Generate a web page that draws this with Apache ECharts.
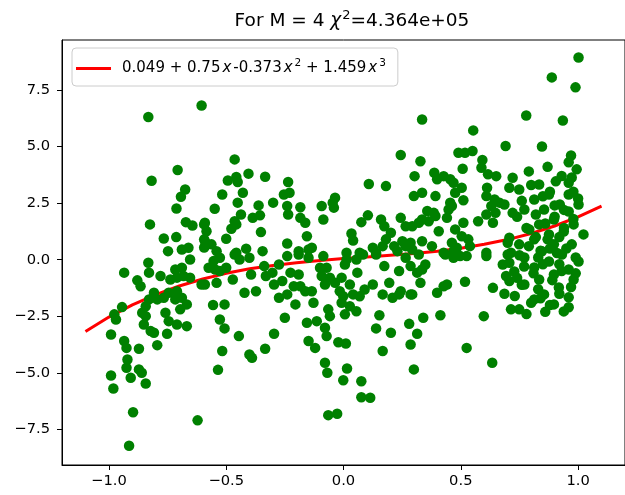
<!DOCTYPE html>
<html><head><meta charset="utf-8">
<script src="https://cdn.jsdelivr.net/npm/echarts@6/dist/echarts.min.js"></script>
<style>html,body{margin:0;padding:0;background:#fff}#c{width:625px;height:495px}</style>
</head><body><div id="c"></div>
<script>
const titleText = 'For M = 4 ';
const titleRest = '=4.364e+05';
const xTicks = [-1.0, -0.5, 0.0, 0.5, 1.0];
const yTicks = [-7.5, -5.0, -2.5, 0.0, 2.5, 5.0, 7.5];
const curveX = [-1.1,-1.0,-0.9,-0.8,-0.7,-0.6,-0.5,-0.4,-0.3,-0.2,-0.1,0.0,0.1,0.2,0.3,0.4,0.5,0.6,0.7,0.8,0.9,1.0,1.1];
const curveY = [-3.17,-2.53,-1.99,-1.54,-1.16,-0.85,-0.60,-0.40,-0.25,-0.13,-0.03,0.05,0.12,0.20,0.28,0.38,0.51,0.68,0.89,1.16,1.49,1.89,2.37];
const pointsX = [
-0.832,-0.605,-0.707,-0.818,-0.675,-0.693,-0.712,-0.825,-0.672,-0.644,-0.594,-0.766,-0.713,-0.748,-0.689,-0.661,-0.594,-0.594,
-0.654,-0.832,-0.829,-0.935,-0.780,-0.879,-0.865,-0.717,-0.689,-0.710,-0.682,-0.654,-0.738,-0.605,-0.808,-0.829,-0.843,-0.794,-0.766,-0.745,-0.710,-0.717,-0.689,-0.668,-0.696,-0.944,-0.977,-0.970,-0.858,-0.843,-0.851,-0.759,-0.745,-0.710,-0.668,-0.991,-0.822,-0.808,-0.752,-0.935,-0.925,-0.872,-0.794,-0.921,-0.925,-0.872,-0.860,-0.991,-0.907,-0.843,-0.981,-0.897,-0.622,-0.914,
-0.464,-0.405,-0.334,-0.493,-0.457,-0.451,-0.236,-0.230,-0.254,-0.517,-0.429,-0.451,-0.300,-0.549,-0.362,-0.356,-0.387,-0.437,-0.464,-0.478,-0.457,-0.240,-0.236,-0.184,-0.184,-0.163,-0.591,-0.584,-0.500,-0.352,-0.591,-0.563,-0.541,-0.457,-0.415,-0.345,-0.240,-0.191,-0.149,
-0.527,-0.554,-0.575,-0.547,-0.527,-0.500,-0.464,-0.443,-0.401,-0.591,-0.541,-0.472,-0.394,-0.338,-0.331,-0.303,-0.275,-0.296,-0.261,-0.240,-0.191,-0.226,-0.191,-0.212,-0.184,-0.422,-0.373,-0.275,-0.240,-0.205,-0.163,-0.556,-0.507,-0.527,-0.507,-0.446,-0.296,-0.250,-0.156,-0.149,-0.517,-0.401,-0.390,-0.334,-0.535,
0.244,0.108,0.181,-0.036,-0.046,-0.093,-0.041,-0.086,-0.156,-0.135,0.034,0.041,0.076,0.104,0.069,0.013,0.160,0.174,0.181,0.167,0.202,0.216,0.244,0.265,0.251,0.293,0.125,0.139,0.265,0.293,
-0.149,-0.086,0.013,0.006,0.055,0.083,0.139,0.174,0.230,0.265,0.237,-0.100,-0.072,-0.093,-0.058,-0.079,-0.036,-0.008,0.027,0.059,-0.135,-0.128,-0.016,-0.008,-0.001,0.041,0.069,0.090,0.027,0.055,0.006,-0.065,-0.058,0.125,0.167,0.195,0.209,0.237,0.244,0.286,0.153,0.139,0.202,-0.114,-0.079,-0.072,-0.121,-0.022,0.010,0.167,0.280,0.286,-0.079,-0.069,0.015,-0.001,0.076,0.076,0.114,0.300,-0.065,-0.027,
0.335,0.553,0.691,0.490,0.518,0.550,0.328,0.592,0.588,0.616,0.651,0.508,0.303,0.387,0.399,0.427,0.455,0.469,0.476,0.504,0.511,0.300,0.335,0.392,0.612,0.609,0.644,0.665,0.686,0.630,0.648,0.707,0.721,0.721,0.455,0.448,0.462,0.357,0.385,0.335,0.363,0.321,0.392,0.441,0.574,0.609,0.637,0.511,0.476,0.406,0.504,0.532,0.539,0.335,0.377,0.286,0.462,0.483,0.707,0.700,0.609,0.427,0.714,
0.321,0.434,0.469,0.497,0.525,0.469,0.609,0.700,0.679,0.707,0.349,0.335,0.314,0.286,0.328,0.518,0.399,0.427,0.441,0.293,0.637,0.693,0.707,0.686,0.714,0.340,0.413,0.598,0.314,0.525,0.634,
1.002,0.888,0.989,0.779,0.935,0.846,0.960,0.994,0.973,0.905,0.834,0.749,0.876,0.960,0.813,0.922,1.002,0.771,0.855,0.960,0.897,0.834,0.981,0.792,0.939,0.876,1.023,0.813,0.749,0.897,0.973,0.846,0.931,0.771,0.876,1.002,0.813,0.960,0.728,0.897,0.834,0.981,0.771,0.918,0.855,0.960,0.813,0.897,0.749,0.939,
0.74,0.76,0.78,0.80,0.82,0.84,0.86,0.88,0.90,0.92,0.94,0.96,0.98,1.00,0.75,0.77,0.79,0.81,0.83,0.85,0.87,0.89,0.91,0.93,0.95,0.97,0.99,0.73,0.76,0.80,0.84,0.88,0.92,0.96,0.78,0.86,0.82,0.90,0.94,0.98,0.85,0.79,0.87,0.93,0.97,0.74,0.92,0.99,0.83,0.88
];
const pointsY = [
6.30,6.81,3.96,3.49,3.10,2.78,2.26,1.56,1.66,1.51,1.56,0.94,1.00,0.38,0.45,0.53,0.90,0.54,
0.01,-0.13,-0.57,-0.57,-0.72,-0.91,-1.17,-0.43,-0.35,-0.79,-0.72,-0.79,-0.87,-1.09,-1.46,-1.75,-2.05,-1.75,-1.68,-1.46,-1.39,-1.75,-1.68,-1.97,-2.19,-2.09,-2.41,-2.64,-2.34,-2.49,-2.86,-2.34,-2.71,-2.86,-2.93,-3.30,-3.15,-3.22,-3.27,-3.59,-3.89,-3.93,-3.77,-4.40,-4.77,-4.84,-4.99,-5.11,-5.21,-5.46,-5.68,-6.73,-7.09,-8.21,
4.43,3.80,3.66,3.50,3.65,3.43,3.43,2.96,2.88,2.88,2.96,2.52,2.52,2.25,2.40,1.96,1.85,2.00,1.70,1.37,1.56,2.37,2.00,2.32,1.85,1.63,1.63,1.26,0.93,1.22,0.82,0.68,0.38,0.31,0.49,0.38,0.72,0.38,0.45,
0.09,-0.06,-0.35,-0.43,-0.50,-0.35,0.23,0.01,0.09,-1.09,-1.02,-0.87,-0.65,-0.28,-0.72,-0.57,-0.21,-1.09,-0.94,0.16,0.23,-0.57,-0.65,-1.17,-1.17,-1.46,-1.39,-1.68,-1.53,-1.97,-1.39,-2.00,-1.97,-2.64,-3.03,-3.37,-3.27,-2.56,-2.78,-3.59,-4.03,-4.18,-4.33,-3.93,-4.86,
4.62,3.34,3.25,2.74,2.52,2.37,2.30,1.78,1.04,0.53,1.16,0.85,1.66,1.96,0.31,0.31,1.78,1.48,0.90,0.60,1.19,0.60,1.85,1.48,0.82,1.48,0.53,0.31,0.60,0.45,
0.09,0.16,0.01,-0.21,0.01,0.23,0.23,-0.28,0.38,0.09,-0.50,-0.35,-0.35,-0.72,-0.79,-1.09,-1.02,-0.79,-1.09,-0.57,-1.39,-1.90,-1.39,-1.90,-1.61,-1.53,-1.61,-1.31,-2.05,-2.27,-2.41,-2.19,-2.49,-1.09,-1.53,-1.02,-1.68,-1.53,-1.39,-1.53,-2.45,-3.03,-3.22,-2.71,-3.00,-3.37,-3.89,-3.64,-3.70,-4.03,-2.83,-3.74,-4.55,-4.99,-4.80,-5.32,-5.36,-6.07,-6.09,-4.84,-6.86,-6.80,
6.19,5.71,5.02,4.72,4.72,4.80,4.35,4.40,4.06,3.77,3.69,4.02,3.69,3.84,3.55,3.69,3.55,3.40,2.96,3.18,2.63,2.81,2.96,2.81,3.18,2.81,2.66,2.52,2.44,2.37,2.07,3.18,3.62,2.07,2.52,2.22,2.37,2.15,2.07,1.78,1.70,1.63,1.93,1.85,1.70,2.00,1.63,1.63,1.34,1.26,1.04,0.90,0.60,0.82,0.60,0.75,0.75,0.53,0.97,0.75,0.31,0.31,0.31,
0.23,0.23,0.38,0.16,0.16,0.09,0.16,0.23,-0.21,-0.13,-0.21,-0.43,-0.57,-0.28,-1.02,-0.97,-1.46,-1.17,-1.09,-1.53,-1.24,-0.72,-0.94,-1.50,-2.19,-2.56,-2.45,-2.49,-3.27,-3.89,-4.55,
8.93,8.05,7.61,6.37,6.15,5.00,4.30,3.99,3.63,3.46,3.32,3.10,2.88,2.88,2.66,2.44,2.44,2.22,2.22,2.13,1.78,1.56,1.56,1.34,1.25,1.12,1.12,0.90,0.68,0.68,0.68,0.37,0.23,0.10,-0.08,-0.08,-0.34,-0.43,-0.52,-0.65,-0.87,-0.87,-1.09,-1.22,-1.53,-1.66,-1.75,-1.97,-2.19,-2.28,
1.9,2.6,1.4,3.3,2.0,0.4,1.6,3.0,2.4,1.0,2.2,3.4,1.8,2.7,0.2,-0.3,0.6,-0.6,-1.3,-0.2,0.9,-0.9,0.3,-0.5,0.5,-1.2,0.1,-1.6,-1.1,-1.9,-1.7,-2.0,-1.5,-2.1,-2.4,-2.3,1.0,1.9,1.4,3.0,2.8,3.9,4.1,3.7,4.6,-0.8,-0.2,-0.6,0.1,0.5
];
const legendLabel = '0.049 + 0.75{i|x}-0.373{i|x}{s|2} + 1.459{i|x}{s|3}';

const chart = echarts.init(document.getElementById('c'), null, {renderer: 'canvas'});
const fmt = v => (Math.abs(v) < 1e-9 ? 0 : v).toFixed(1).replace('-', '\u2212');
const FONT = 'DejaVu Sans';
chart.setOption({
  animation: false,
  backgroundColor: '#fff',
  title: {
    text: titleText + '{i|χ}{s|2}' + titleRest,
    left: 347, top: 4, textAlign: 'center',
    textStyle: {
      fontFamily: FONT, fontSize: 18.5, fontWeight: 'normal', color: '#000',
      rich: {
        i: {fontFamily: FONT, fontSize: 18.5, fontStyle: 'italic', color: '#000', padding: [0, 1, 0, 0]},
        s: {fontFamily: FONT, fontSize: 13, color: '#000', padding: [0, 0, 12, 0]}
      }
    }
  },
  legend: {
    left: 72, top: 48,
    data: ['fit'],
    icon: 'rect', itemWidth: 35, itemHeight: 3,
    padding: [10, 12, 10, 4],
    backgroundColor: 'rgba(255,255,255,0.8)',
    borderColor: '#cccccc', borderWidth: 1, borderRadius: 4,
    formatter: () => legendLabel,
    textStyle: {
      fontFamily: FONT, fontSize: 15, color: '#000', padding: [0, 0, 0, 6],
      rich: {
        i: {fontFamily: FONT, fontSize: 15, fontStyle: 'italic', color: '#000', padding: [0, 2, 0, 2]},
        s: {fontFamily: FONT, fontSize: 10.5, color: '#000', padding: [0, 0, 10, 0]}
      }
    }
  },
  grid: {left: 62, top: 40, width: 570, height: 425, show: true, borderColor: '#000', borderWidth: 1, backgroundColor: 'transparent'},
  xAxis: {
    type: 'value', min: -1.2, max: 1.2,
    axisLine: {show: true, onZero: false, lineStyle: {color: '#000', width: 1}},
    axisTick: {show: true, length: 5, customValues: xTicks, lineStyle: {color: '#000'}},
    axisLabel: {customValues: xTicks, formatter: fmt, margin: 9, fontFamily: FONT, fontSize: 14.7, color: '#000'},
    splitLine: {show: false}
  },
  yAxis: {
    type: 'value', min: -9.06, max: 9.70,
    axisLine: {show: true, onZero: false, lineStyle: {color: '#000', width: 1}},
    axisTick: {show: true, length: 5, customValues: yTicks, lineStyle: {color: '#000'}},
    axisLabel: {customValues: yTicks, formatter: fmt, margin: 12, fontFamily: FONT, fontSize: 14.7, color: '#000'},
    splitLine: {show: false}
  },
  series: [
    {
      name: 'fit', type: 'line', z: 2,
      data: curveX.map((x, i) => [x, curveY[i]]),
      showSymbol: false, symbol: 'none',
      lineStyle: {color: '#ff0000', width: 3},
      itemStyle: {color: '#ff0000'}
    },
    {
      name: 'data', type: 'scatter', z: 3,
      data: pointsX.map((x, i) => [x, pointsY[i]]),
      symbolSize: 10.5,
      itemStyle: {color: '#008000', opacity: 1}
    }
  ]
});
</script>
</body></html>
